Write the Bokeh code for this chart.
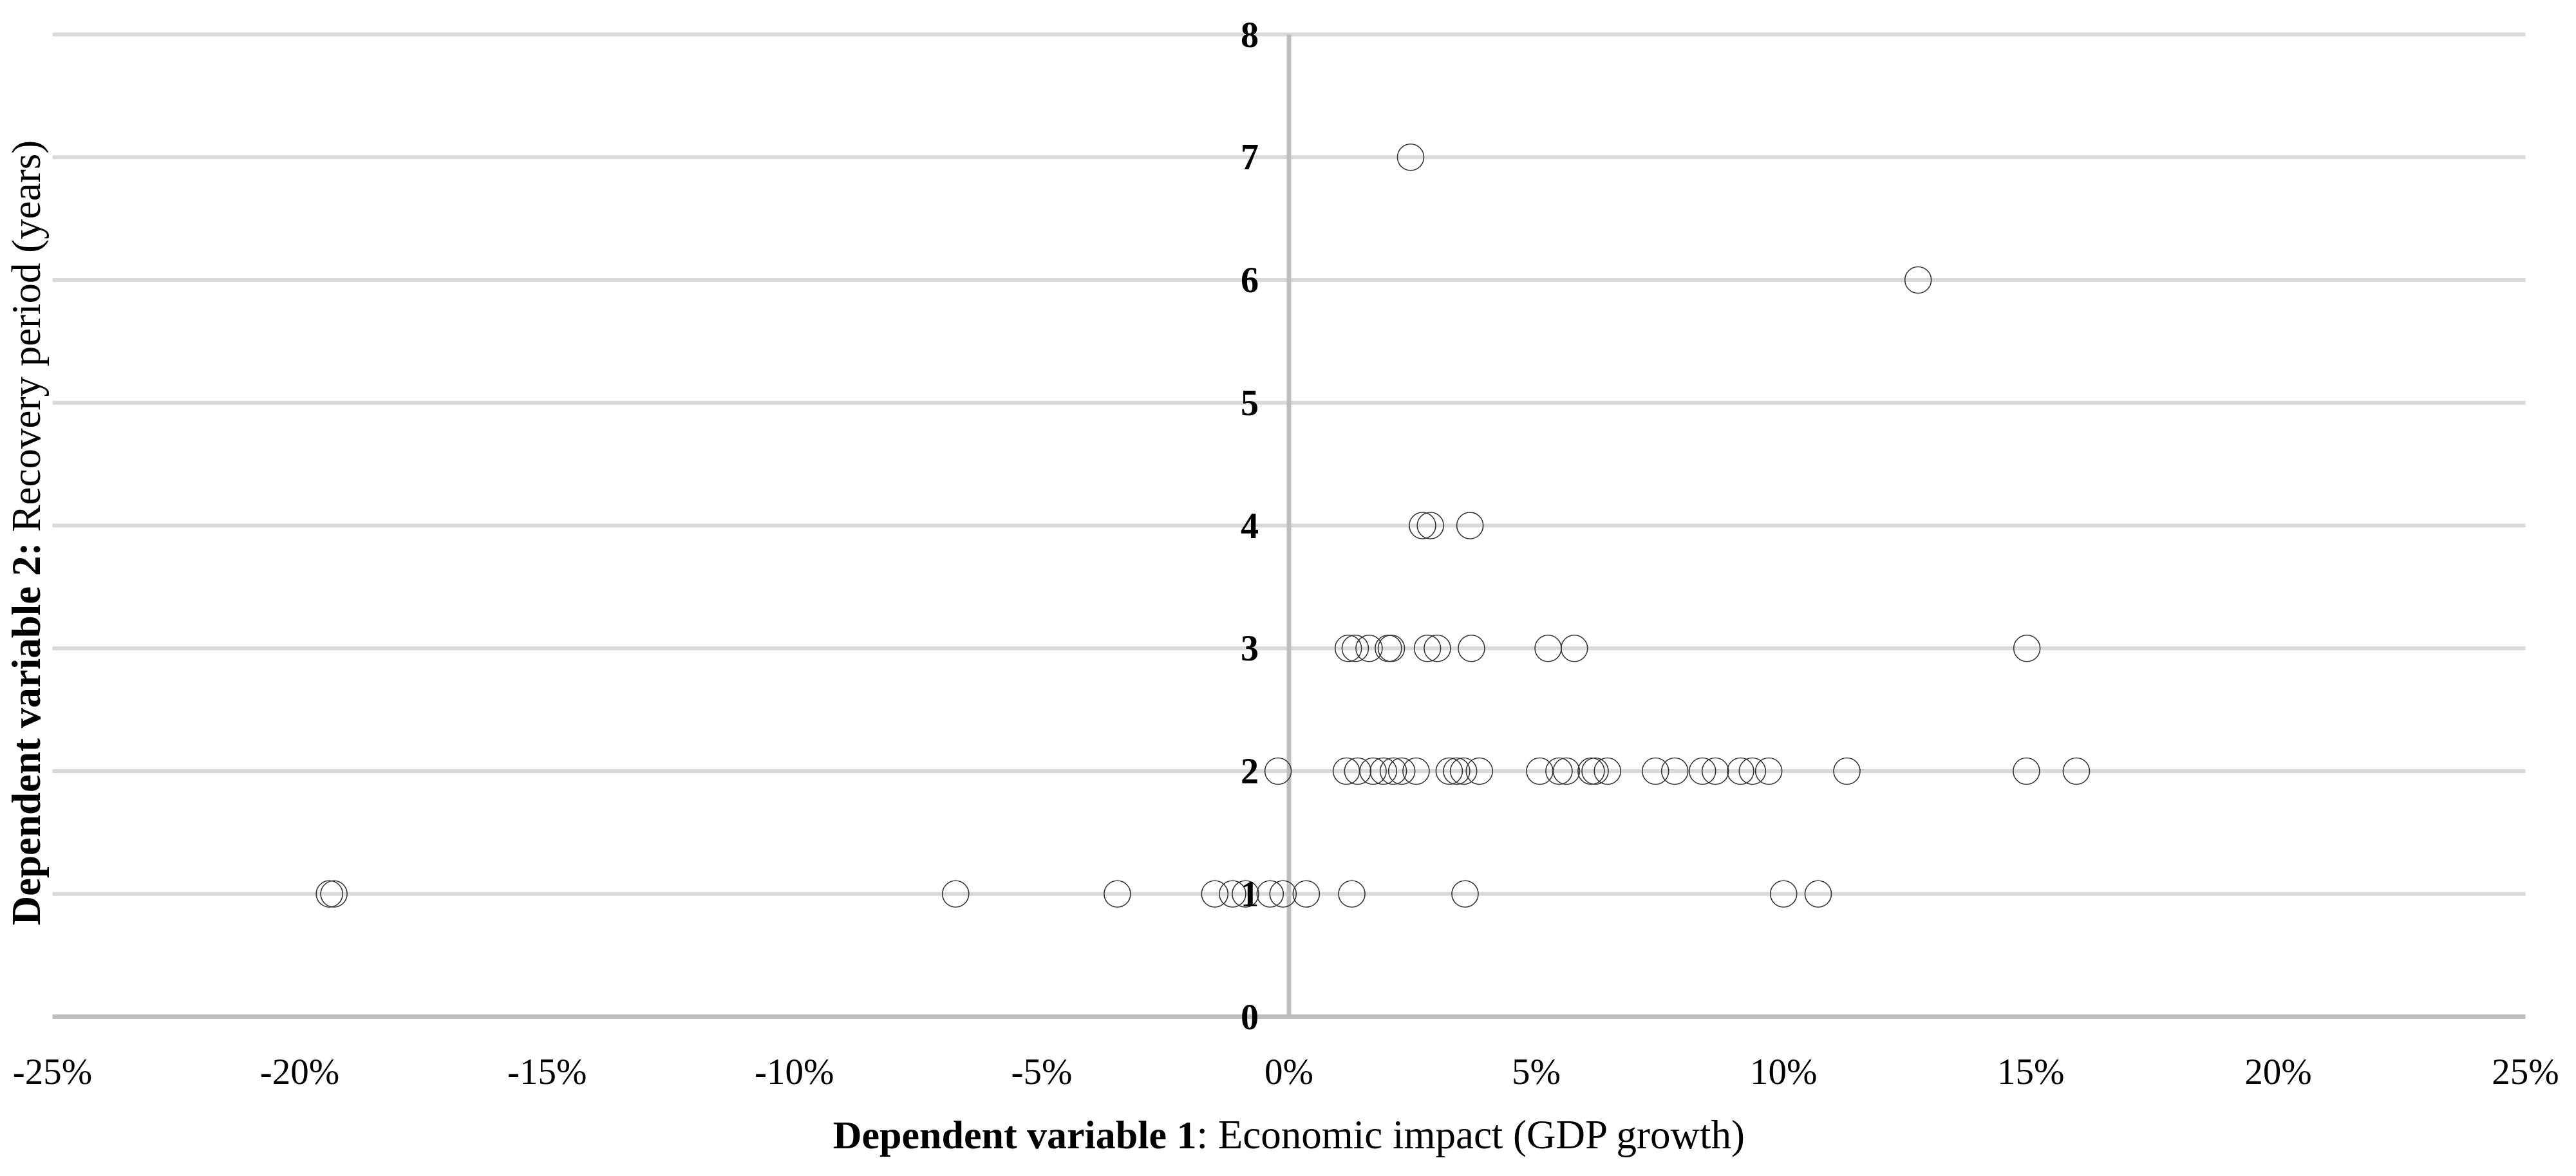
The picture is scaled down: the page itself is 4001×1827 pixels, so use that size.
import math
from bokeh.plotting import figure
from bokeh.models import Range1d, Label, LabelSet, ColumnDataSource
from bokeh.embed import file_html
from bokeh.resources import INLINE

# ---------------- data ----------------
x_ticks = [-25, -20, -15, -10, -5, 0, 5, 10, 15, 20, 25]
x_tick_labels = ["-25%", "-20%", "-15%", "-10%", "-5%", "0%",
                 "5%", "10%", "15%", "20%", "25%"]
y_ticks = [0, 1, 2, 3, 4, 5, 6, 7, 8]
y_tick_labels = ["0", "1", "2", "3", "4", "5", "6", "7", "8"]

# GDP growth (%) of events, grouped by recovery period (years)
gdp_recovery_1 = [-19.40, -19.31, -6.74, -3.47, -1.50, -1.14, -0.88, -0.38,
                  -0.12, 0.35, 1.27, 3.56, 10.00, 10.70]
gdp_recovery_2 = [-0.22, 1.16, 1.39, 1.70, 1.91, 2.11, 2.28, 2.57, 3.24, 3.39,
                  3.53, 3.85, 5.07, 5.46, 5.61, 6.11, 6.19, 6.44, 7.41, 7.80,
                  8.36, 8.62, 9.13, 9.37, 9.70, 11.28, 14.91, 15.92]
gdp_recovery_3 = [1.20, 1.34, 1.62, 2.01, 2.07, 2.80, 3.00, 3.69, 5.24, 5.77,
                  14.92]
gdp_recovery_4 = [2.70, 2.86, 3.66]
gdp_recovery_6 = [12.72]
gdp_recovery_7 = [2.46]

x_title_bold = "Dependent variable 1"
x_title_rest = ": Economic impact (GDP growth)"
y_title_bold = "Dependent variable 2:"
y_title_rest = "Recovery period (years)"

groups = [(1, gdp_recovery_1), (2, gdp_recovery_2), (3, gdp_recovery_3),
          (4, gdp_recovery_4), (6, gdp_recovery_6), (7, gdp_recovery_7)]
xs, ys = [], []
for yr, vals in groups:
    xs.extend(vals)
    ys.extend([yr] * len(vals))
pts = ColumnDataSource(dict(x=xs, y=ys))

FONT = "Liberation Serif"

# ---------------- figure ----------------
W, H = 3985, 1811
# plot region inside the canvas (pixels): left, right, top, bottom
L_PX, R_PX, T_PX, B_PX = 81, 3922, 53, 1579
xmin, xmax = x_ticks[0], x_ticks[-1]
ymin, ymax = y_ticks[0], y_ticks[-1]
kx = (xmax - xmin) / (R_PX - L_PX)
ky = (ymax - ymin) / (B_PX - T_PX)

p = figure(width=W, height=H, output_backend="svg", toolbar_location=None,
           x_range=Range1d(xmin - L_PX * kx, xmax + (W - R_PX) * kx),
           y_range=Range1d(ymin - (H - B_PX) * ky, ymax + T_PX * ky),
           x_axis_location=None, y_axis_location=None,
           min_border=0)
p.outline_line_color = None
p.background_fill_color = "white"
p.border_fill_color = "white"
p.xgrid.visible = False
p.ygrid.visible = False

# horizontal gridlines (at the y ticks, across the x tick span)
grid_y = y_ticks[1:]
p.segment(x0=[xmin] * len(grid_y), x1=[xmax] * len(grid_y),
          y0=grid_y, y1=grid_y, line_color="#d9d9d9", line_width=6,
          line_cap="butt")
# x axis line (y = 0)
p.segment(x0=[xmin], x1=[xmax], y0=[ymin], y1=[ymin],
          line_color="#bfbfbf", line_width=7, line_cap="butt")
# vertical axis line (x = 0) across the y tick span
p.segment(x0=[0], x1=[0], y0=[ymin], y1=[ymax],
          line_color="#bfbfbf", line_width=7, line_cap="butt")

p.scatter("x", "y", source=pts, marker="circle", size=41, fill_alpha=0,
          line_color="#333333", line_width=1.6)

# y tick labels next to the vertical axis at x = 0
ylab_src = ColumnDataSource(dict(x=[0] * len(y_ticks), y=y_ticks,
                                 text=y_tick_labels))
p.add_layout(LabelSet(x="x", y="y", text="text", source=ylab_src,
                      x_offset=-47, text_align="right", text_baseline="middle",
                      text_font=FONT, text_font_style="bold",
                      text_font_size="56px", text_color="black"))

# x tick labels under the x axis line
xlab_src = ColumnDataSource(dict(x=x_ticks, y=[0] * len(x_ticks),
                                 text=x_tick_labels))
p.add_layout(LabelSet(x="x", y="y", text="text", source=xlab_src,
                      y_offset=-85, text_align="center", text_baseline="middle",
                      text_font=FONT, text_font_size="57px",
                      text_color="black"))

# axis titles (bold + regular parts)
XT_SPLIT, XT_Y = 1858, H - 1762
YT_X, YT_SPLIT = 40, H - 842
p.add_layout(Label(x=XT_SPLIT, y=XT_Y, x_units="screen", y_units="screen",
                   text=x_title_bold, text_align="right", text_baseline="middle",
                   text_font=FONT, text_font_style="bold",
                   text_font_size="62px", text_color="black"))
p.add_layout(Label(x=XT_SPLIT, y=XT_Y, x_units="screen", y_units="screen",
                   text=x_title_rest, text_align="left", text_baseline="middle",
                   text_font=FONT, text_font_size="63px", text_color="black"))
p.add_layout(Label(x=YT_X, y=YT_SPLIT, x_units="screen", y_units="screen",
                   angle=math.pi / 2, text=y_title_bold, text_align="right",
                   text_baseline="middle", text_font=FONT,
                   text_font_style="bold", text_font_size="63px",
                   text_color="black"))
p.add_layout(Label(x=YT_X, y=YT_SPLIT + 16, x_units="screen", y_units="screen",
                   angle=math.pi / 2, text=y_title_rest, text_align="left",
                   text_baseline="middle", text_font=FONT,
                   text_font_size="63px", text_color="black"))

open("out.html", "w").write(file_html(p, INLINE))
